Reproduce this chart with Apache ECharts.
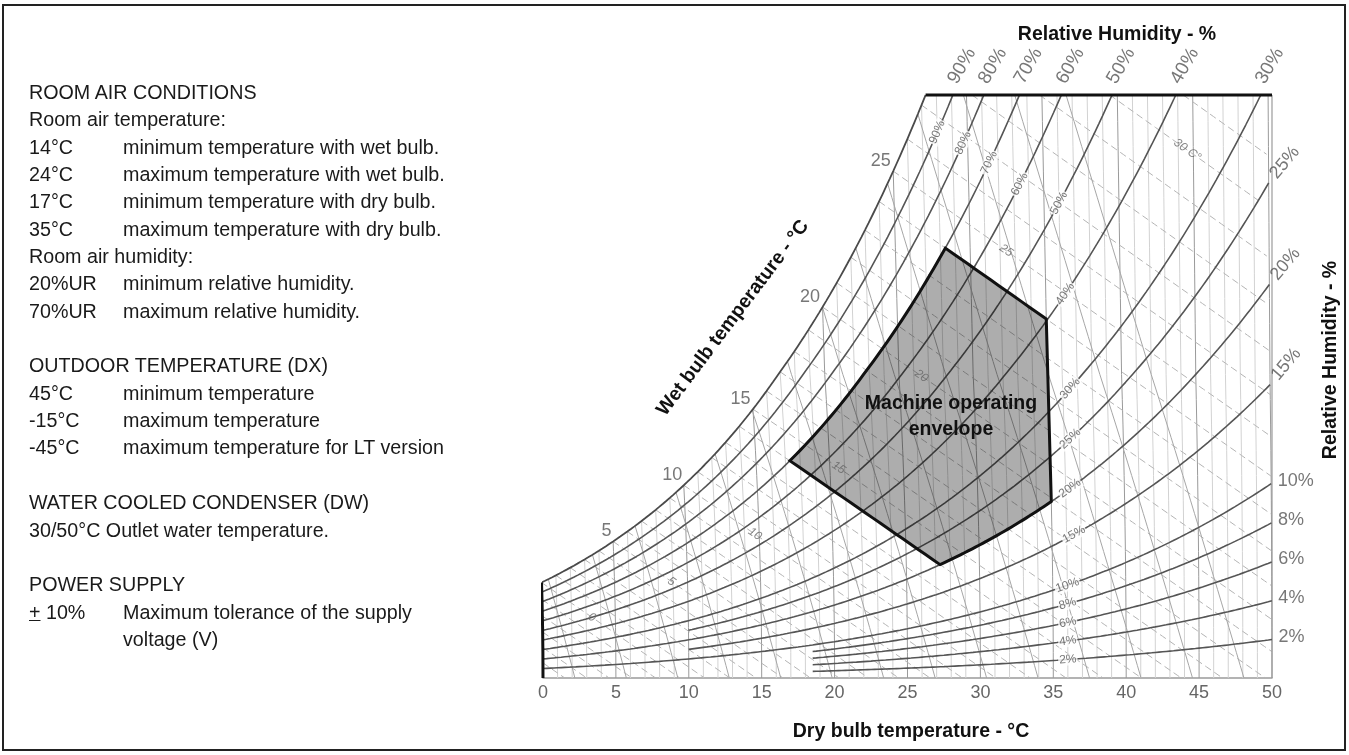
<!DOCTYPE html>
<html>
<head>
<meta charset="utf-8">
<title>Machine operating envelope - psychrometric chart</title>
<script src="https://cdn.jsdelivr.net/npm/echarts@6/dist/echarts.min.js"></script>
<style>
  html, body { margin: 0; padding: 0; background: #fff; }
  #wrap { position: relative; width: 1349px; height: 755px; overflow: hidden; font-family: "Liberation Sans", Arial, sans-serif; }
  #chart { position: absolute; left: 0; top: 0; width: 1349px; height: 755px; }
  #frame { position: absolute; left: 2px; top: 4px; width: 1344px; height: 747px; border: 2px solid #222; box-sizing: border-box; pointer-events: none; }
  .notes { position: absolute; left: 29px; top: 79px; font-size: 19.7px; line-height: 27.35px; color: #1a1a1a; }
  .notes div { white-space: nowrap; height: 27.35px; }
  .notes span { display: inline-block; width: 94px; }
</style>
</head>
<body>
<div id="wrap">
  <div id="chart"></div>
  <div class="notes">
    <div>ROOM AIR CONDITIONS</div>
    <div>Room air temperature:</div>
    <div><span>14°C</span>minimum temperature with wet bulb.</div>
    <div><span>24°C</span>maximum temperature with wet bulb.</div>
    <div><span>17°C</span>minimum temperature with dry bulb.</div>
    <div><span>35°C</span>maximum temperature with dry bulb.</div>
    <div>Room air humidity:</div>
    <div><span>20%UR</span>minimum relative humidity.</div>
    <div><span>70%UR</span>maximum relative humidity.</div>
    <div></div>
    <div>OUTDOOR TEMPERATURE (DX)</div>
    <div><span>45°C</span>minimum temperature</div>
    <div><span>-15°C</span>maximum temperature</div>
    <div><span>-45°C</span>maximum temperature for LT version</div>
    <div></div>
    <div>WATER COOLED CONDENSER (DW)</div>
    <div>30/50°C Outlet water temperature.</div>
    <div></div>
    <div>POWER SUPPLY</div>
    <div><span><u>+</u> 10%</span>Maximum tolerance of the supply</div>
    <div><span></span>voltage (V)</div>
  </div>
  <div id="frame"></div>
</div>
<script>
// ---- values ----
const rhLevels   = [90, 80, 70, 60, 50, 40, 30, 25, 20, 15, 10, 8, 6, 4, 2];
const rhStartT   = [0, 0, 0, 0, 0, 0, 0, 10, 0, 10, 0, 18.5, 18.5, 18.5, 18.5];
const rhLabelT   = [28, 29.7, 31.4, 33.4, 36, 36.3, 36.5, 36.4, 36.3, 36.5, 36, 36, 36, 36, 36];
const rhTopLabels  = [90, 80, 70, 60, 50, 40, 30];
const rhSideLabels = [25, 20, 15, 10, 8, 6, 4, 2];
const wbOuterLabels = [0, 5, 10, 15, 20, 25];
const wbInnerLabels = [0, 5, 10, 15, 20, 25, 30];
const wbInnerLabelT = [3.4, 8.9, 14.7, 20.6, 26.5, 32.4, 44.6];
const volLines = [0.78, 0.79, 0.80, 0.81, 0.82, 0.83, 0.84, 0.85, 0.86, 0.87, 0.88, 0.89, 0.90, 0.91];
const envelopeWetBulb = [14, 24];
const envelopeDryBulb = [17, 35];
const envelopeRH = [20, 70];
const W_TOP = 23.04;   // g/kg at the upper edge

const FONT = '"Liberation Sans", Arial, sans-serif';
const GRID = { left: 543, top: 95, width: 729, height: 583 };
const SX = GRID.width / 50, SY = GRID.height / W_TOP;

// psychrometrics (sea level), W in g/kg
const P = 101.325;
const psat = t => 0.61094 * Math.exp(17.625 * t / (t + 243.04));
const wRH = (t, rh) => { const pv = rh / 100 * psat(t); return 621.945 * pv / (P - pv); };
const wWB = (t, twb) => {
  const ws = wRH(twb, 100) / 1000;
  return 1000 * ((2501 - 2.326 * twb) * ws - 1.006 * (t - twb)) / (2501 + 1.86 * t - 4.186 * twb);
};
const tVol = (v, w) => v * P / (0.287042 * (1 + 1.607858 * w / 1000)) - 273.15;
// dry bulb lines of the printed chart lean left as humidity rises
const pt = (t, w) => [t - 0.00149 * (57.8 - t) * w * Math.min(1, w / 12), w];

function bisect(g, a, b) {
  let ga = g(a);
  for (let i = 0; i < 60; i++) {
    const m = (a + b) / 2, gm = g(m);
    if ((gm < 0) === (ga < 0)) { a = m; ga = gm; } else b = m;
  }
  return (a + b) / 2;
}

function trace(f, t0, t1, step) {
  const out = [];
  for (let t = t0; t <= t1 + 1e-9; t += step) {
    const w = f(t);
    if (w > W_TOP) { out.push(pt(bisect(x => f(x) - W_TOP, t - step, t), W_TOP)); break; }
    if (w < 0) { out.push(pt(bisect(f, t - step, t), 0)); break; }
    out.push(pt(t, w));
  }
  return out;
}

const series = [];
const line = (data, style, z) => series.push({
  type: 'line', data, symbol: 'none', silent: true, animation: false, z: z || 2, lineStyle: style
});

// dry bulb lines
for (let t = 0; t <= 50; t++) {
  const top = Math.min(wRH(t, 100), W_TOP), d = [];
  for (let w = 0; w < top; w += 1) d.push(pt(t, w));
  d.push(pt(t, top));
  if (t === 0) line(d, { color: '#111', width: 3 }, 6);
  else line(d, t % 5 === 0 ? { color: '#9a9a9a', width: 1 } : { color: '#d2d2d2', width: 1 }, 2);
}

// wet bulb lines
for (let twb = -6; twb <= 31; twb++) {
  let t0 = Math.max(0, twb);
  if (wWB(t0, twb) > W_TOP) t0 = bisect(t => wWB(t, twb) - W_TOP, t0, 70);
  if (t0 >= 50) continue;
  line(trace(t => wWB(t, twb), t0, 50, 0.5), { color: '#b4b4b4', width: 1, type: [7, 4] }, 2);
}

// specific volume lines
volLines.forEach(v => {
  const d = [];
  for (let w = 0; w <= W_TOP; w += 0.5) {
    const t = tVol(v, w);
    if (w > wRH(t, 100)) {
      const wc = bisect(x => x - wRH(tVol(v, x), 100), w - 0.5, w);
      d.push(pt(tVol(v, wc), wc));
      break;
    }
    d.push(pt(t, w));
  }
  line(d, { color: '#a6a6a6', width: 1 }, 2);
});

// relative humidity curves
const tSatTop = bisect(t => wRH(t, 100) - W_TOP, 0, 40);
line(trace(t => wRH(t, 100), 0, 50, 0.25), { color: '#4a4a4a', width: 1.8 }, 3);
rhLevels.forEach((rh, i) => line(trace(t => wRH(t, rh), rhStartT[i], 50, 0.25), { color: '#555', width: 1.6 }, 3));

// chart edges
line([pt(tSatTop, W_TOP), [50, W_TOP]], { color: '#111', width: 3 }, 6);
series[series.length - 1].clip = false;
line([[50, 0], [50, W_TOP]], { color: '#9a9a9a', width: 1.2 }, 2);

// machine operating envelope
const [wbLo, wbHi] = envelopeWetBulb, [dbLo, dbHi] = envelopeDryBulb, [rhLo, rhHi] = envelopeRH;
const tA = Math.max(dbLo, bisect(t => wRH(t, rhHi) - wWB(t, wbLo), 5, 30));
const tB = bisect(t => wRH(t, rhHi) - wWB(t, wbHi), 15, 45);
const tE = bisect(t => wRH(t, rhLo) - wWB(t, wbLo), 15, 45);
const env = [];
for (let t = tA; t < tB; t += 0.25) env.push(pt(t, wRH(t, rhHi)));
for (let t = tB; t < dbHi; t += 0.5) env.push(pt(t, wWB(t, wbHi)));
env.push(pt(dbHi, wWB(dbHi, wbHi)));
for (let t = dbHi; t > tE; t -= 0.25) env.push(pt(t, wRH(t, rhLo)));
for (let t = tE; t > tA; t -= 0.5) env.push(pt(t, wWB(t, wbLo)));

const poly = (style, z) => series.push({
  type: 'custom', silent: true, animation: false, z, data: [[0, 0]],
  renderItem: (params, api) => ({ type: 'polygon', shape: { points: env.map(p => api.coord(p)) }, style })
});
poly({ fill: 'rgba(0,0,0,0.32)' }, 4);
poly({ fill: 'none', stroke: '#111', lineWidth: 3, lineJoin: 'miter' }, 5);

// labels
const angle = (f, t) => {
  const a = pt(t - 0.3, f(t - 0.3)), b = pt(t + 0.3, f(t + 0.3));
  return Math.atan2((b[1] - a[1]) * SY, (b[0] - a[0]) * SX) * 180 / Math.PI;
};
const labels = (data, label) => series.push({
  type: 'scatter', symbolSize: 1, silent: true, animation: false, z: 7,
  itemStyle: { color: 'rgba(0,0,0,0)' },
  label: Object.assign({ show: true, fontFamily: FONT }, label), data
});

labels(rhLevels.map((rh, i) => {
  const t = rhLabelT[i], f = x => wRH(x, rh);
  return { value: pt(t, f(t)), label: { formatter: rh + '%', rotate: angle(f, t) } };
}), { position: 'inside', color: '#555', fontSize: 12, backgroundColor: '#fff', padding: [0, 1] });

labels(wbInnerLabels.map((twb, i) => {
  const t = wbInnerLabelT[i], f = x => wWB(x, twb);
  return { value: pt(t, f(t)), label: { formatter: twb === 30 ? '30 C°' : String(twb), rotate: angle(f, t) } };
}), { position: 'inside', color: '#666', fontSize: 12, fontStyle: 'italic' });

labels(rhTopLabels.map(rh => ({
  value: pt(bisect(t => wRH(t, rh) - W_TOP, 0, 60), W_TOP), label: { formatter: rh + '%' }
})), { position: [0, -12], align: 'left', verticalAlign: 'middle', rotate: 60, color: '#555', fontSize: 19 });

labels(rhSideLabels.map(rh => ({
  value: pt(50, wRH(50, rh)),
  label: rh > 10 ? { formatter: rh + '%', rotate: 50, position: [5, -6] } : { formatter: rh + '%', position: [7, -2] }
})), { align: 'left', verticalAlign: 'middle', color: '#555', fontSize: 18 });

labels(wbOuterLabels.map(twb => ({
  value: pt(twb, wRH(twb, 100)),
  label: { formatter: String(twb), position: [-Math.min(12, 1 + twb), -10] }
})), { align: 'center', verticalAlign: 'middle', color: '#555', fontSize: 18 });

const title = (text, x, y, rot) => ({
  type: 'text', x, y, z: 100, rotation: (rot || 0) * Math.PI / 180, silent: true,
  style: { text, fill: '#111', font: 'bold 19.5px ' + FONT, align: 'center', verticalAlign: 'middle' }
});

const chart = echarts.init(document.getElementById('chart'), null, { renderer: 'canvas' });
chart.setOption({
  animation: false,
  grid: GRID,
  xAxis: {
    type: 'value', min: 0, max: 50, interval: 5,
    axisLine: { show: true, lineStyle: { color: '#9a9a9a', width: 1.5 } },
    axisTick: { show: false }, splitLine: { show: false },
    axisLabel: { color: '#666', fontSize: 18, margin: 6, fontFamily: FONT }
  },
  yAxis: { type: 'value', min: 0, max: W_TOP, show: false },
  graphic: [
    title('Dry bulb temperature - °C', 911, 732),
    title('Relative Humidity - %', 1117, 35),
    title('Relative Humidity - %', 1331, 360, 90),
    title('Wet bulb temperature - °C', 733, 318, 53),
    title('Machine operating', 951, 404),
    title('envelope', 951, 430)
  ],
  series
});
</script>
</body>
</html>
